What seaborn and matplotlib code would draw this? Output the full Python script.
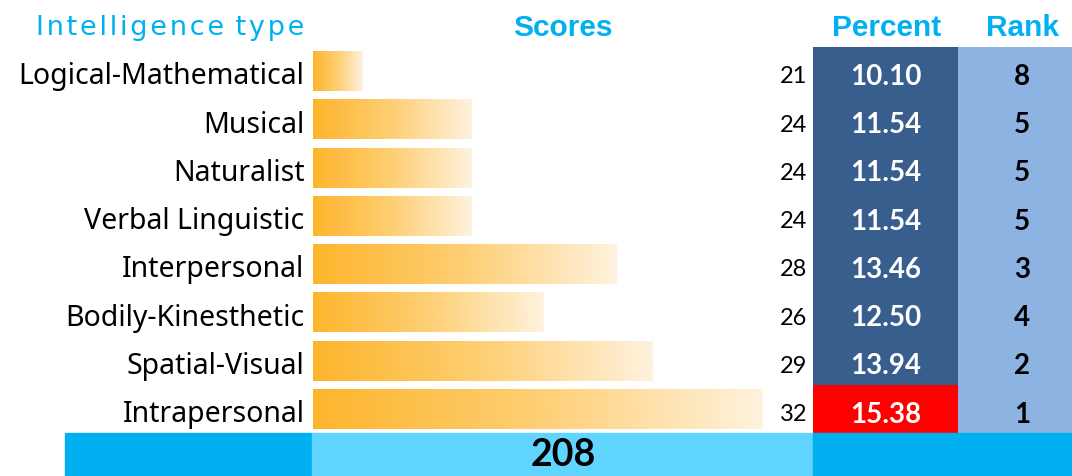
import numpy as np
import pandas as pd
import matplotlib.pyplot as plt
import seaborn as sns
from matplotlib.colors import ListedColormap, LinearSegmentedColormap
from matplotlib.patches import Rectangle

# Data
types = ['Logical-Mathematical', 'Musical', 'Naturalist', 'Verbal Linguistic',
         'Interpersonal', 'Bodily-Kinesthetic', 'Spatial-Visual', 'Intrapersonal']
scores = [21, 24, 24, 24, 28, 26, 29, 32]
percent = [10.10, 11.54, 11.54, 11.54, 13.46, 12.50, 13.94, 15.38]
rank = [8, 5, 5, 5, 3, 4, 2, 1]
total = 208

df = pd.DataFrame({'type': types, 'score': scores, 'percent': percent, 'rank': rank})

sns.set_style('white')
plt.rcParams['font.family'] = ['Liberation Sans', 'DejaVu Sans']
plt.rcParams['text.color'] = 'black'
plt.rcParams['ytick.color'] = 'black'

W, H = 1072, 477
fig = plt.figure(figsize=(W / 100, H / 100), dpi=100)
fig.patch.set_facecolor('white')

top_px, bot_px = 48, 434
b = (H - bot_px) / H
h = (bot_px - top_px) / H

# Bars with a left-to-right orange fade
ax = fig.add_axes([313 / W, b, 500 / W, h])
sns.barplot(data=df, x='score', y='type', orient='h', ax=ax, width=0.83,
            color='#FDB933', saturation=1)
x0 = 19.65
ax.set_xlim(x0, x0 + 500 / 36.36)
grad = LinearSegmentedColormap.from_list('g', ['#FDB52C', '#FECF74', '#FEF2DE'])
gradient = np.linspace(0, 1, 256).reshape(1, -1)
for p in ax.patches:
    x, y = p.get_x(), p.get_y()
    wd, ht = p.get_width(), p.get_height()
    p.set_facecolor('none')
    im = ax.imshow(gradient, cmap=grad, aspect='auto',
                   extent=[x0, x + wd, y + ht, y], zorder=2)
    im.set_clip_path(p)
ax.set_ylim(7.5, -0.5)
for s in ax.spines.values():
    s.set_visible(False)
ax.set_xticks([])
ax.set_xlabel('')
ax.set_ylabel('')
ax.tick_params(axis='y', length=0, pad=8)
ax.set_yticks(range(len(types)))
ax.set_yticklabels([])
for i, name in enumerate(types):
    ax.text(-0.017, i + 0.1, name, transform=ax.get_yaxis_transform(),
            ha='right', va='center', fontsize=20.5, color='black',
            family=['Noto Sans', 'DejaVu Sans'])
for i, v in enumerate(scores):
    ax.text(0.988, i + 0.1, str(v), transform=ax.get_yaxis_transform(),
            ha='right', va='center', fontsize=17, family='Lato', color='black')

# Percent column
ax_p = fig.add_axes([813 / W, b, 145 / W, h])
is_top = (df[['rank']].values == 1).astype(int)
sns.heatmap(is_top, ax=ax_p, cmap=ListedColormap(['#385E8E', '#FF0000']),
            vmin=0, vmax=1, cbar=False,
            annot=np.array([[f'{v:.2f}'] for v in percent]), fmt='',
            annot_kws={'color': 'white', 'fontsize': 20, 'fontweight': 'bold',
                       'family': 'Lato'})
ax_p.set_xticks([])
ax_p.set_yticks([])

# Rank column
ax_r = fig.add_axes([958 / W, b, 114 / W, h])
sns.heatmap(np.zeros((len(rank), 1)), ax=ax_r, cmap=ListedColormap(['#8DB3E2']),
            cbar=False, annot=np.array([[str(r)] for r in rank]), fmt='',
            annot_kws={'color': 'black', 'fontsize': 20, 'fontweight': 'bold',
                       'family': 'Lato'})
ax_r.set_xticks([])
ax_r.set_yticks([])
for t in ax_p.texts:
    t.set_y(t.get_position()[1] + 0.1)
for t in ax_r.texts:
    tx, ty = t.get_position()
    t.set_position((tx + 0.06, ty + 0.1))

# Total row
rh = (H - 434) / H
fig.patches.append(Rectangle((65 / W, 0), (312 - 65) / W, rh,
                             transform=fig.transFigure, color='#00B0F0'))
fig.patches.append(Rectangle((312 / W, 0), (813 - 312) / W, rh,
                             transform=fig.transFigure, color='#5FD5FF'))
fig.patches.append(Rectangle((813 / W, 0), (W - 813) / W, rh,
                             transform=fig.transFigure, color='#00B0F0'))
fig.text(563 / W, 1 - 455 / H, str(total), ha='center', va='center',
         fontsize=27, fontweight='bold', family='Lato', color='black')

# Headers
hc = '#00B0F0'
header = '\u200a'.join('Intelligence') + ' \u200a' + '\u200a'.join('type')
fig.text(304 / W, 1 - 28 / H, header, ha='right', va='center',
         fontsize=19.5, color=hc, family='DejaVu Sans')
fig.text(563 / W, 1 - 28 / H, 'Scores', ha='center', va='center',
         fontsize=21.5, fontweight='bold', color=hc)
fig.text(887 / W, 1 - 28 / H, 'Percent', ha='center', va='center',
         fontsize=21.5, fontweight='bold', color=hc)
fig.text(1022 / W, 1 - 28 / H, 'Rank', ha='center', va='center',
         fontsize=21.5, fontweight='bold', color=hc)

fig.savefig('out.png', dpi=100)
